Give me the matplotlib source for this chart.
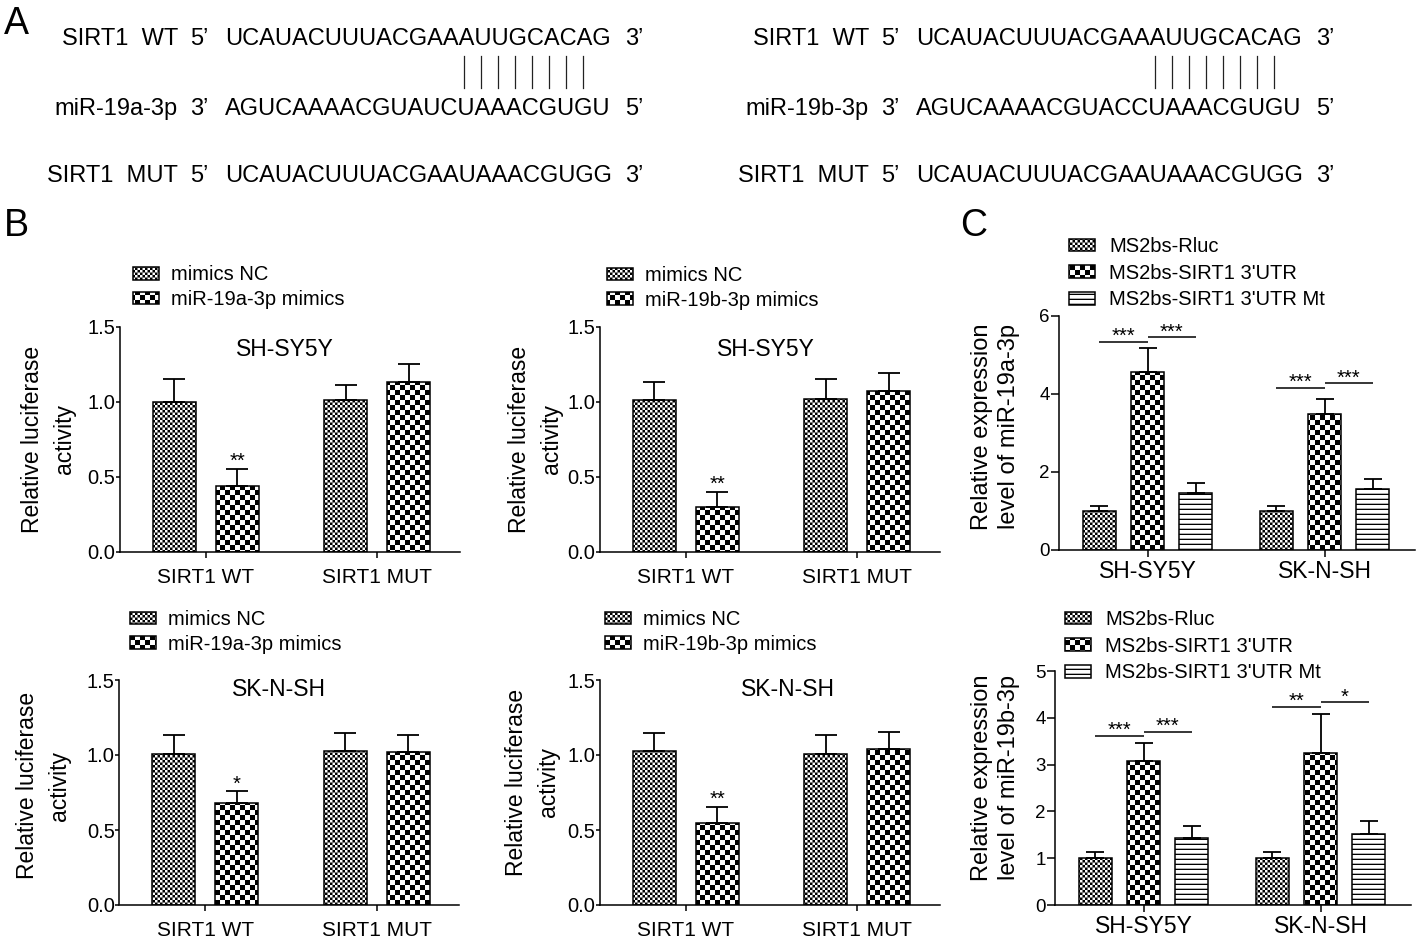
import warnings
warnings.filterwarnings('ignore')
import numpy as np
import matplotlib
matplotlib.use('Agg')
import matplotlib.pyplot as plt
import matplotlib.hatch as mhatch
from matplotlib.path import Path
from matplotlib.lines import Line2D
from matplotlib.transforms import blended_transform_factory

# ------------------------------------------------------------------ data
seq_wt = "UCAUACUUUACGAAAUUGCACAG"
seq_mut = "UCAUACUUUACGAAUAAACGUGG"
mir19a_seq = "AGUCAAAACGUAUCUAAACGUGU"
mir19b_seq = "AGUCAAAACGUACCUAAACGUGU"

luc_groups = ["SIRT1 WT", "SIRT1 MUT"]
nc_label = "mimics NC"

# B: miR-19a-3p, SH-SY5Y
b1_nc = [1.00, 1.01]
b1_nc_err = [0.15, 0.105]
b1_mim = [0.44, 1.13]
b1_mim_err = [0.11, 0.12]
# B: miR-19b-3p, SH-SY5Y
b2_nc = [1.01, 1.02]
b2_nc_err = [0.12, 0.13]
b2_mim = [0.30, 1.07]
b2_mim_err = [0.10, 0.12]
# B: miR-19a-3p, SK-N-SH
b3_nc = [1.01, 1.03]
b3_nc_err = [0.125, 0.12]
b3_mim = [0.68, 1.02]
b3_mim_err = [0.077, 0.113]
# B: miR-19b-3p, SK-N-SH
b4_nc = [1.03, 1.01]
b4_nc_err = [0.12, 0.125]
b4_mim = [0.545, 1.04]
b4_mim_err = [0.11, 0.115]

b_stars = ["**", "**", "*", "**"]

cell_groups = ["SH-SY5Y", "SK-N-SH"]
c_series = ["MS2bs-Rluc", "MS2bs-SIRT1 3'UTR", "MS2bs-SIRT1 3'UTR Mt"]
# C: miR-19a-3p
c1_rluc = [1.00, 1.00]
c1_rluc_err = [0.14, 0.13]
c1_utr = [4.57, 3.50]
c1_utr_err = [0.62, 0.37]
c1_mt = [1.45, 1.56]
c1_mt_err = [0.26, 0.25]
c1_sig_y = [[5.34, 5.45], [4.16, 4.27]]
c1_sig_txt = [["***", "***"], ["***", "***"]]
# C: miR-19b-3p
c2_rluc = [1.00, 1.01]
c2_rluc_err = [0.14, 0.12]
c2_utr = [3.08, 3.25]
c2_utr_err = [0.39, 0.83]
c2_mt = [1.425, 1.52]
c2_mt_err = [0.265, 0.28]
c2_sig_y = [[3.61, 3.69], [4.24, 4.33]]
c2_sig_txt = [["***", "***"], ["**", "*"]]

# ------------------------------------------------------------------ custom hatches
class _FilledHatch(mhatch.HatchPatternBase):
    char = None

    def __init__(self, hatch, density):
        self.rects = self._rects() if (hatch and self.char in hatch) else []
        self.num_vertices = 5 * len(self.rects)
        self.filled = True

    def set_vertices_and_codes(self, vertices, codes):
        for k, (x0, y0, w, h) in enumerate(self.rects):
            vertices[5 * k:5 * k + 5] = [(x0, y0), (x0 + w, y0), (x0 + w, y0 + h),
                                         (x0, y0 + h), (x0, y0)]
            codes[5 * k:5 * k + 5] = [Path.MOVETO, Path.LINETO, Path.LINETO,
                                      Path.LINETO, Path.CLOSEPOLY]


class CoarseChecker(_FilledHatch):
    char = 'k'
    n = 20

    def _rects(self):
        s = 1.0 / self.n
        return [(i * s, j * s, s, s) for i in range(self.n)
                for j in range(self.n) if (i + j) % 2 == 0]


class FineChecker(CoarseChecker):
    char = 'f'
    n = 40


class HLines(_FilledHatch):
    char = 'h'
    n = 20
    t = 0.013

    def _rects(self):
        s = 1.0 / self.n
        return [(0.0, j * s, 1.0, self.t) for j in range(self.n)]


mhatch._hatch_types.extend([CoarseChecker, FineChecker, HLines])

plt.rcParams['font.family'] = ['Liberation Sans', 'DejaVu Sans']
plt.rcParams['hatch.linewidth'] = 0.01
plt.rcParams['hatch.color'] = 'black'

W, H = 1418, 943
fig = plt.figure(figsize=(W / 100, H / 100), dpi=100)
fig.patch.set_facecolor('white')


def fx(x):
    return x / W


def fy(y):
    return 1 - y / H


def px_axes(left, top, right, bottom):
    return fig.add_axes([fx(left), fy(bottom), (right - left) / W, (bottom - top) / H])


LW = 1.1

# ------------------------------------------------------------------ panel letters
for letter, x, y in [("A", 4, 33.5), ("B", 4, 235.5), ("C", 960, 235.5)]:
    fig.text(fx(x), fy(y), letter, fontsize=27, va='baseline', ha='left')

# ------------------------------------------------------------------ panel A
seq_fs = 17
rows = [
    ("SIRT1  WT", "5\u2019", seq_wt, "3\u2019", 45.2),
    (None, "3\u2019", None, "5\u2019", 115.2),
    ("SIRT1  MUT", "5\u2019", seq_mut, "3\u2019", 181.8),
]
for shift, mir_name, mir_seq in [(0, "miR-19a-3p", mir19a_seq), (691, "miR-19b-3p", mir19b_seq)]:
    for lab, m1, seq, m2, yb in rows:
        lab = lab if lab is not None else mir_name
        seq = seq if seq is not None else mir_seq
        fig.text(fx(178 + shift), fy(yb), lab, fontsize=seq_fs, ha='right', va='baseline')
        fig.text(fx(190 + shift), fy(yb), m1, fontsize=seq_fs, ha='left', va='baseline')
        fig.text(fx(225 + shift), fy(yb), seq, fontsize=seq_fs, ha='left', va='baseline')
        fig.text(fx(625 + shift), fy(yb), m2, fontsize=seq_fs, ha='left', va='baseline')
    for i in range(8):
        xl = 464.3 + 16.9 * i + shift
        fig.add_artist(Line2D([fx(xl), fx(xl)], [fy(56), fy(88.3)],
                              transform=fig.transFigure, color='#222222', lw=0.9))

# ------------------------------------------------------------------ panel B
b_panels = [
    dict(box=(120, 327, 459.6, 551.5), nc=b1_nc, nce=b1_nc_err, mi=b1_mim, mie=b1_mim_err,
         mir="miR-19a-3p mimics", cell="SH-SY5Y", title=(0.485, 1.35), ylab=(-0.212, 0.5),
         leg=(133, 265.5), star=b_stars[0]),
    dict(box=(600, 327, 939.6, 551.5), nc=b2_nc, nce=b2_nc_err, mi=b2_mim, mie=b2_mim_err,
         mir="miR-19b-3p mimics", cell="SH-SY5Y", title=(0.488, 1.35), ylab=(-0.19, 0.5),
         leg=(607, 266), star=b_stars[1]),
    dict(box=(119.5, 680, 459.1, 905), nc=b3_nc, nce=b3_nc_err, mi=b3_mim, mie=b3_mim_err,
         mir="miR-19a-3p mimics", cell="SK-N-SH", title=(0.469, 1.44), ylab=(-0.223, 0.53),
         leg=(130, 610), star=b_stars[2]),
    dict(box=(600, 680, 939.6, 905), nc=b4_nc, nce=b4_nc_err, mi=b4_mim, mie=b4_mim_err,
         mir="miR-19b-3p mimics", cell="SK-N-SH", title=(0.554, 1.44), ylab=(-0.2, 0.545),
         leg=(605, 610), star=b_stars[3]),
]

b_off = 0.184
b_w = 0.25
for p in b_panels:
    ax = px_axes(*p['box'])
    x = np.arange(len(luc_groups))
    z = np.zeros(len(x))
    h1 = ax.bar(x - b_off, p['nc'], b_w, facecolor='white', edgecolor='black', linewidth=LW,
                hatch='f', label=nc_label)
    h2 = ax.bar(x + b_off, p['mi'], b_w, facecolor='white', edgecolor='black', linewidth=LW,
                hatch='k', label=p['mir'])
    ax.errorbar(x - b_off, p['nc'], yerr=[z, p['nce']], fmt='none', ecolor='black',
                elinewidth=1.3, capsize=7.9, capthick=1.3)
    ax.errorbar(x + b_off, p['mi'], yerr=[z, p['mie']], fmt='none', ecolor='black',
                elinewidth=1.3, capsize=7.9, capthick=1.3)
    ax.annotate(p['star'], xy=(x[0] + b_off, p['mi'][0] + p['mie'][0]), xytext=(0, 1.5),
                textcoords='offset points', ha='center', va='baseline', fontsize=14.5)
    ax.set_xlim(-0.5, 1.48)
    ax.set_ylim(0, 1.5)
    ax.set_xticks(x)
    ax.set_xticklabels(luc_groups)
    ax.set_yticks([0, 0.5, 1.0, 1.5])
    ax.set_yticklabels(['0.0', '0.5', '1.0', '1.5'])
    for s in ['top', 'right']:
        ax.spines[s].set_visible(False)
    for s in ['left', 'bottom']:
        ax.spines[s].set_linewidth(LW)
    ax.tick_params(axis='y', direction='out', length=3, width=LW, pad=0.5, labelsize=14.5)
    ax.tick_params(axis='x', direction='out', length=4.3, width=LW, pad=7.5, labelsize=15)
    tr = blended_transform_factory(ax.transAxes, ax.transData)
    ax.text(p['title'][0], p['title'][1], p['cell'], transform=tr, ha='center', va='center',
            fontsize=16.5)
    ax.set_ylabel("Relative luciferase\nactivity", fontsize=16.5, linespacing=1.5,
                  ha='center', va='center', rotation_mode='default')
    ax.yaxis.set_label_coords(*p['ylab'])
    lx, ly = p['leg']
    ax.legend(handles=[h1, h2], labels=[nc_label, p['mir']], loc='upper left',
              bbox_to_anchor=(fx(lx), fy(ly)), bbox_transform=fig.transFigure,
              frameon=False, fontsize=14.5, borderpad=0, borderaxespad=0,
              handlelength=1.29, handleheight=0.6, handletextpad=0.6, labelspacing=0.28)
    ax.set_facecolor('none')

# ------------------------------------------------------------------ panel C
c_panels = [
    dict(box=(1059, 316, 1415, 550), r=c1_rluc, re=c1_rluc_err, u=c1_utr, ue=c1_utr_err,
         m=c1_mt, me=c1_mt_err, sy=c1_sig_y, st=c1_sig_txt, ymax=6, yt=[0, 2, 4, 6],
         ylabel="Relative expression\nlevel of miR-19a-3p", ylab=(-0.178, 0.527), leg=(1069, 237)),
    dict(box=(1055, 671, 1411, 905), r=c2_rluc, re=c2_rluc_err, u=c2_utr, ue=c2_utr_err,
         m=c2_mt, me=c2_mt_err, sy=c2_sig_y, st=c2_sig_txt, ymax=5, yt=[0, 1, 2, 3, 4, 5],
         ylabel="Relative expression\nlevel of miR-19b-3p", ylab=(-0.168, 0.545), leg=(1065, 610)),
]
c_off = 0.272
c_w = 0.186
for p in c_panels:
    ax = px_axes(*p['box'])
    x = np.arange(len(cell_groups))
    z = np.zeros(len(x))
    handles = []
    for k, (vals, errs, hatch) in enumerate([(p['r'], p['re'], 'f'), (p['u'], p['ue'], 'k'),
                                             (p['m'], p['me'], 'h')]):
        xo = x + (k - 1) * c_off
        hb = ax.bar(xo, vals, c_w, facecolor='white', edgecolor='black', linewidth=LW,
                    hatch=hatch, label=c_series[k])
        handles.append(hb)
        ax.errorbar(xo, vals, yerr=[z, errs], fmt='none', ecolor='black', elinewidth=1.3,
                    capsize=6.5, capthick=1.3)
    for g in range(len(x)):
        for j in range(2):
            xa = x[g] + (j - 1) * c_off
            xb = x[g] + j * c_off
            yv = p['sy'][g][j]
            ax.plot([xa, xb], [yv, yv], color='black', lw=LW, solid_capstyle='butt')
            ax.text((xa + xb) / 2, yv, p['st'][g][j], ha='center', va='baseline', fontsize=14.5)
    ax.set_xlim(-0.5, 1.51)
    ax.set_ylim(0, p['ymax'])
    ax.set_xticks(x)
    ax.set_xticklabels(cell_groups)
    ax.set_yticks(p['yt'])
    for s in ['top', 'right']:
        ax.spines[s].set_visible(False)
    for s in ['left', 'bottom']:
        ax.spines[s].set_linewidth(LW)
    ax.tick_params(axis='y', direction='out', length=6, width=LW, pad=0.5, labelsize=13.5)
    ax.tick_params(axis='x', direction='out', length=4.8, width=LW, pad=2.5, labelsize=16.5)
    ax.set_ylabel(p['ylabel'], fontsize=17, linespacing=1.3, ha='center', va='center',
                  rotation_mode='default')
    ax.yaxis.set_label_coords(*p['ylab'])
    lx, ly = p['leg']
    ax.legend(handles=handles, labels=c_series, loc='upper left',
              bbox_to_anchor=(fx(lx), fy(ly)), bbox_transform=fig.transFigure,
              frameon=False, fontsize=14.5, borderpad=0, borderaxespad=0,
              handlelength=1.29, handleheight=0.6, handletextpad=0.7, labelspacing=0.38)
    ax.set_facecolor('none')

fig.savefig('out.png', dpi=100, facecolor='white')
